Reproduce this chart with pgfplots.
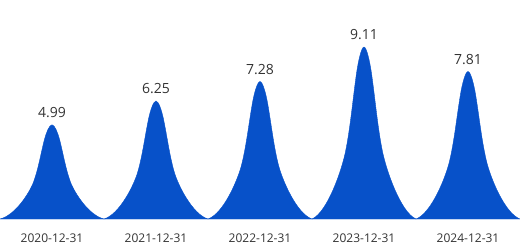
\documentclass[border=0pt]{standalone}
\usepackage{pgfplots}
\pgfplotsset{compat=1.18}
\usepackage{pgfplotstable}
\usepackage{fontspec}
\setmainfont{Open Sans}
\definecolor{spikeblue}{RGB}{7,81,201}
\definecolor{txt}{RGB}{51,51,51}
\pgfplotstableread{
x y
0 4.99
1 6.25
2 7.28
3 9.11
4 7.81
}\datatable
\pgfdeclareplotmark{spike}{%
  \pgfkeys{/pgf/fpu=false}%
  \pgfmathparse{\val*18.88}\let\H\pgfmathresult
  \fill[spikeblue] (52pt,-\H pt)
    .. controls (36.4pt,-0.96*\H pt) and (21.84pt,-0.71*\H pt) .. (18.2pt,-0.6*\H pt)
    .. controls (13.57pt,-0.464*\H pt) and (11.13pt,-0.303*\H pt) .. (7.54pt,-0.155*\H pt)
    .. controls (5.77pt,-0.083*\H pt) and (2.6pt,0pt) .. (0pt,0pt)
    .. controls (-2.6pt,0pt) and (-5.77pt,-0.083*\H pt) .. (-7.54pt,-0.155*\H pt)
    .. controls (-11.13pt,-0.303*\H pt) and (-13.57pt,-0.464*\H pt) .. (-18.2pt,-0.6*\H pt)
    .. controls (-21.84pt,-0.71*\H pt) and (-36.4pt,-0.96*\H pt) .. (-52pt,-\H pt)
    -- cycle;
}
\begin{document}
\begin{tikzpicture}
\begin{axis}[
  x=104pt, y=18.88pt,
  xmin=-0.5, xmax=4.5, ymin=0, ymax=11.6,
  scale only axis, clip=false,
  axis line style={draw=none}, tick style={draw=none},
  ytick=\empty, xtick={0,1,2,3,4},
  xticklabels={2020-12-31,2021-12-31,2022-12-31,2023-12-31,2024-12-31},
  xticklabel style={font=\fontsize{12}{14}\selectfont, text=txt, yshift=-11pt},
  /pgf/number format/fixed,
  /pgf/number format/fixed zerofill,
  /pgf/number format/precision=2,
  /pgf/number format/assume math mode=true,
]
\addplot[only marks, mark=spike, spikeblue,
  visualization depends on={\thisrow{y} \as \val},
  point meta=y,
  nodes near coords,
  every node near coord/.append style={font=\fontsize{14}{16}\selectfont, text=txt, anchor=south, yshift=3.5pt},
] table[x=x, y=y] {\datatable};
\end{axis}
\pgfresetboundingbox
\path (current axis.south west) ++(0,-31pt) rectangle (current axis.north east);
\end{tikzpicture}
\end{document}
